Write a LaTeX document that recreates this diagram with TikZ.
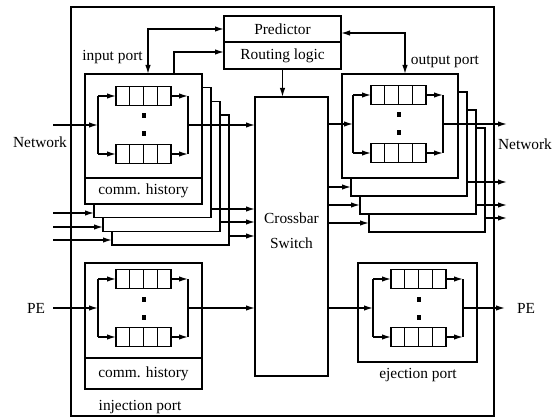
\documentclass[tikz,border=0pt]{standalone}
\usepackage{fontspec}
\setmainfont{Liberation Serif}
\usetikzlibrary{arrows.meta}
\newcommand\fsz{\fontsize{15.4}{18}\selectfont}
\tikzset{
 box/.style={draw, fill=white, inner sep=0pt, outer sep=0pt, anchor=north west, font=\fsz},
 queue/.style={draw, fill=white, minimum width=55pt, minimum height=19pt, inner sep=0pt, outer sep=0pt},
 arr/.style={-{Latex[length=9pt,width=5.5pt]}},
 arrboth/.style={{Latex[length=9pt,width=5.5pt]}-{Latex[length=9pt,width=5.5pt]}},
 lbl/.style={font=\fsz, inner sep=0pt},
}
\newcommand\qgroup[3]{%
 \coordinate (#1-split) at (#2,#3);
 \coordinate (#1-merge) at (#2+90,#3);
 \node[queue] (#1-q1) at (#2+45.5,#3-29) {};
 \node[queue] (#1-q2) at (#2+45.5,#3+29) {};
 \foreach \q in {q1,q2}{\foreach \k in {1,2,3}{\draw ([xshift=\k*13.75pt]#1-\q.north west) -- ([xshift=\k*13.75pt]#1-\q.south west);}}
 \draw (#1-split |- #1-q1) -- (#1-split |- #1-q2);
 \draw (#1-merge |- #1-q1) -- (#1-merge |- #1-q2);
 \draw[arr] (#1-split |- #1-q1) -- (#1-q1.west);
 \draw[arr] (#1-split |- #1-q2) -- (#1-q2.west);
 \draw[arr] (#1-q1.east) -- (#1-merge |- #1-q1);
 \draw[arr] (#1-q2.east) -- (#1-merge |- #1-q2);
 \fill (#2+43.5,#3-11.5) rectangle ++(4,5);
 \fill (#2+43.5,#3+6.5) rectangle ++(4,5);
}
\begin{document}
\begin{tikzpicture}[x=1pt,y=-1pt,line width=1.4pt]
\useasboundingbox (0,0) rectangle (552,417);
% router outline
\draw (71,7) rectangle (494,416);
% predictor / routing logic
\node[box, minimum width=117pt, minimum height=26pt] (pred) at (224,16) {Predictor};
\node[box, minimum width=117pt, minimum height=27pt] (rt) at (224,42) {Routing logic};
% crossbar
\node[box, minimum width=73pt, minimum height=279pt] (xbar) at (255,97) {};
\node[lbl, align=center, font=\fontsize{15.4}{25}\selectfont] (xbar-lbl) at (291.5,230.5) {Crossbar\\Switch};
% input ports (stack)
\node[box, minimum width=117pt, minimum height=130pt] (ip4) at (112,115.1) {};
\node[box, minimum width=117pt, minimum height=130pt] (ip3) at (103,101.4) {};
\node[box, minimum width=117pt, minimum height=130pt] (ip2) at (94,87.7) {};
\node[box, minimum width=117pt, minimum height=104pt] (ip1) at (85,74) {};
\node[box, minimum width=117pt, minimum height=26pt] (ip1h) at (85,178) {comm. history};
\qgroup{in}{98}{125}
% output ports (stack)
\node[box, minimum width=116pt, minimum height=104pt] (op4) at (369,128) {};
\node[box, minimum width=116pt, minimum height=104pt] (op3) at (360,110) {};
\node[box, minimum width=116pt, minimum height=104pt] (op2) at (351,92) {};
\node[box, minimum width=116pt, minimum height=104pt] (op1) at (342,74) {};
\qgroup{out}{353}{124}
% injection port
\node[box, minimum width=117pt, minimum height=95pt] (inj) at (85,263) {};
\node[box, minimum width=117pt, minimum height=31pt] (injh) at (85,358) {comm. history};
\qgroup{inj}{98}{308}
% ejection port
\node[box, minimum width=119pt, minimum height=99pt] (ej) at (358,263) {};
\qgroup{ej}{373}{308}
% labels
\node[lbl] (l-netin) at (40,142) {Network};
\node[lbl] (l-netout) at (525,144) {Network};
\node[lbl] (l-ip) at (112.5,57) {input port};
\node[lbl] (l-op) at (445,62) {output port};
\node[lbl] (l-pein) at (36,308) {PE};
\node[lbl] (l-peout) at (526,308) {PE};
\node[lbl] (l-ej) at (418,375) {ejection port};
\node[lbl] (l-inj) at (140,407) {injection port};
% coordinates
\coordinate (netin) at (53,125);
\coordinate (in2) at (53,213);
\coordinate (in3) at (53,227);
\coordinate (in4) at (53,240);
\coordinate (ip2o) at (211,209);
\coordinate (ip3o) at (220,222);
\coordinate (ip4o) at (229,236);
\coordinate (op2i) at (351,187);
\coordinate (op3i) at (360,205);
\coordinate (op4i) at (369,223);
\coordinate (netout) at (507,124);
\coordinate (op2o) at (467,182);
\coordinate (op3o) at (476,205);
\coordinate (op4o) at (485,218);
\coordinate (pein) at (53,308);
\coordinate (peout) at (505,308);
\coordinate (ip-pred) at (148,74);
\coordinate (ip-rt) at (174,74);
\coordinate (op-pred) at (405,74);
\coordinate (rt-in) at (224,52);
\coordinate (pred-out) at (341,33);
% connectors
\draw[arrboth] (ip-pred) |- (pred.west);
\draw[arr] (ip-rt) |- (rt-in);
\draw[arrboth] (pred-out) -| (op-pred);
\draw[arr] (rt.south) -- (rt.south |- xbar.north);
\draw[arr] (netin) -- (in-split);
\draw[arr] (in-merge) -- (in-merge -| xbar.west);
\draw[arr] (in2) -- (in2 -| ip2.west);
\draw[arr] (in3) -- (in3 -| ip3.west);
\draw[arr] (in4) -- (in4 -| ip4.west);
\draw[arr] (ip2o) -- (ip2o -| xbar.west);
\draw[arr] (ip3o) -- (ip3o -| xbar.west);
\draw[arr] (ip4o) -- (ip4o -| xbar.west);
\draw[arr] (out-split -| xbar.east) -- (out-split);
\draw[arr] (op2i -| xbar.east) -- (op2i);
\draw[arr] (op3i -| xbar.east) -- (op3i);
\draw[arr] (op4i -| xbar.east) -- (op4i);
\draw[arr] (out-merge) -- (netout);
\draw[arr] (op2o) -- (op2o -| netout);
\draw[arr] (op3o) -- (op3o -| netout);
\draw[arr] (op4o) -- (op4o -| netout);
\draw[arr] (pein) -- (inj-split);
\draw[arr] (inj-merge) -- (inj-merge -| xbar.west);
\draw[arr] (ej-split -| xbar.east) -- (ej-split);
\draw[arr] (ej-merge) -- (peout);
\end{tikzpicture}
\end{document}
